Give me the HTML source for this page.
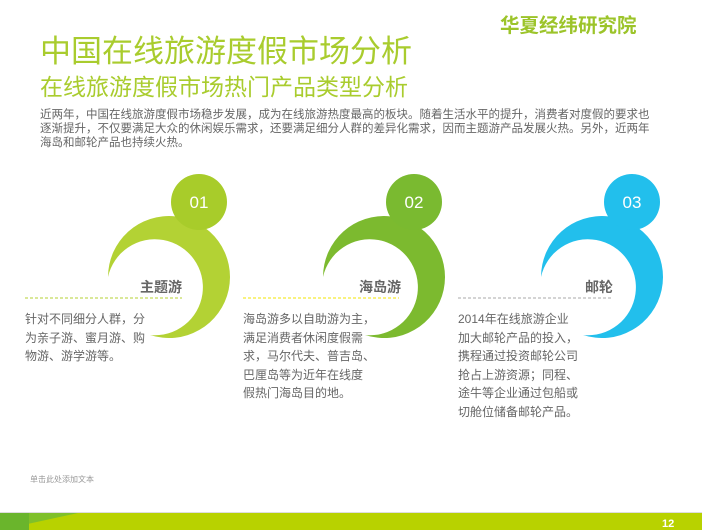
<!DOCTYPE html>
<html><head><meta charset="utf-8"><style>
body{margin:0;width:702px;height:530px;position:relative;overflow:hidden;background:#fff;font-family:"Liberation Sans","Noto Sans CJK SC",sans-serif;}
.a{position:absolute;white-space:nowrap;}
.t{font-size:12px;line-height:18.5px;color:#666;}
</style></head><body>
<div class="a" style="left:500px;top:9px;font-size:19.5px;font-weight:bold;color:#9cc42a;">华夏经纬研究院</div>
<div class="a" style="left:40px;top:26px;font-size:31px;color:#a9cc2e;">中国在线旅游度假市场分析</div>
<div class="a" style="left:40px;top:68px;font-size:23px;color:#a9cc2e;">在线旅游度假市场热门产品类型分析</div>
<div class="a" style="left:40px;top:108px;font-size:11.5px;line-height:14px;color:#666;">近两年，中国在线旅游度假市场稳步发展，成为在线旅游热度最高的板块。随着生活水平的提升，消费者对度假的要求也<br>逐渐提升，不仅要满足大众的休闲娱乐需求，还要满足细分人群的差异化需求，因而主题游产品发展火热。另外，近两年<br>海岛和邮轮产品也持续火热。</div>
<svg class="a" style="left:0;top:0" width="702" height="530">
<g fill="#b3d234"><path d="M108 277 A61 61 0 1 1 150 335 A48 48 0 1 0 108 277 Z"/><circle cx="199" cy="202" r="28" fill="#a8cc2a"/></g>
<g transform="translate(215,0)"><path d="M108 277 A61 61 0 1 1 150 335 A48 48 0 1 0 108 277 Z" fill="#7cba2f"/><circle cx="199" cy="202" r="28" fill="#7aba30"/></g>
<g transform="translate(433,0)"><path d="M108 277 A61 61 0 1 1 150 335 A48 48 0 1 0 108 277 Z" fill="#22bfec"/><circle cx="199" cy="202" r="28" fill="#22bfec"/></g>
<line x1="25" y1="298" x2="182" y2="298" stroke="#b6d233" stroke-dasharray="3,2"/>
<line x1="243" y1="298" x2="399" y2="298" stroke="#f2e600" stroke-dasharray="3,2"/>
<line x1="458" y1="298" x2="613" y2="298" stroke="#aaa" stroke-dasharray="3,2"/>
<g font-size="17" fill="#fff" text-anchor="middle" font-family="Liberation Sans"><text x="199" y="208">01</text><text x="414" y="208">02</text><text x="632" y="208">03</text></g>
<rect x="0" y="512" width="702" height="1" fill="#ddd"/>
<rect x="0" y="513" width="702" height="17" fill="#b8d200"/>
<polygon points="0,513 78,513 0,530" fill="#7fc02a"/>
<rect x="0" y="513" width="29" height="17" fill="#6ab52c"/>
<text x="662" y="527" font-size="11" font-weight="bold" fill="#fff">12</text>
</svg>
<div class="a" style="left:140px;top:277px;font-size:14px;font-weight:bold;color:#666;">主题游</div>
<div class="a" style="left:359px;top:277px;font-size:14px;font-weight:bold;color:#666;">海岛游</div>
<div class="a" style="left:585px;top:277px;font-size:14px;font-weight:bold;color:#666;">邮轮</div>
<div class="a t" style="left:25px;top:310px;">针对不同细分人群，分<br>为亲子游、蜜月游、购<br>物游、游学游等。</div>
<div class="a t" style="left:243px;top:310px;">海岛游多以自助游为主，<br>满足消费者休闲度假需<br>求，马尔代夫、普吉岛、<br>巴厘岛等为近年在线度<br>假热门海岛目的地。</div>
<div class="a t" style="left:458px;top:310px;">2014年在线旅游企业<br>加大邮轮产品的投入，<br>携程通过投资邮轮公司<br>抢占上游资源；同程、<br>途牛等企业通过包船或<br>切舱位储备邮轮产品。</div>
<div class="a" style="left:30px;top:474px;font-size:8px;color:#999;">单击此处添加文本</div>
</body></html>
